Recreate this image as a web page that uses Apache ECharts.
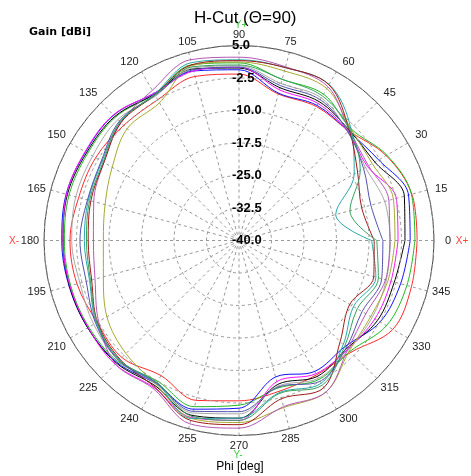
<!DOCTYPE html>
<html><head><meta charset="utf-8">
<script src="https://cdn.jsdelivr.net/npm/echarts@6/dist/echarts.min.js"></script>
<style>html,body{margin:0;padding:0;background:#fff}#c{width:471px;height:476px}</style>
</head><body><div id="c"></div>
<script>
// Phi angles (deg)
const angles = [0,15,30,45,60,75,90,105,120,135,150,165,180,195,210,225,240,255,270,285,300,315,330,345];
// Radial axis (gain, dBi)
const gainMin = -40, gainMax = 5, gainStep = 7.5;
// Angle axis tick step; the gain scale is drawn along Phi = 90
const phiStep = 15, phiTop = 90;

// Gain traces (dBi) at each angle above
const sRed     = [1.1,1.3,-0.8,-4.2,-4.3,-5.0,-1.6,-0.8,-2.5,-2.4,-1.8,-1.7,-1.0,-1.3,-2.2,-1.8,-4.0,-1.8,-3.0,-4.0,-4.2,-3.5,1.0,1.2];
const sGreen   = [0.6,1.2,-0.6,-3.5,-1.0,-1.5,1.0,2.0,-1.0,0.3,0.3,0.6,0.3,0.2,0.0,-0.5,-2.5,-0.3,-2.0,-4.8,-3.0,-3.8,-0.7,0.1];
const sBlue    = [-0.5,0.5,-2.8,-4.3,-4.0,-4.8,-0.6,0.5,-0.8,0.9,0.9,1.3,0.9,0.6,0.3,-0.2,-1.8,0.3,-1.3,-7.4,-5.1,-5.4,-2.4,-1.4];
const sBlack   = [-1.7,-0.5,-3.8,-4.0,-3.0,-3.5,-0.2,1.0,-1.0,0.5,0.6,1.0,0.6,0.5,0.3,0.0,-1.3,1.8,1.0,-5.6,-3.8,-4.8,-3.1,-2.9];
const sMagenta = [-3.3,-2.4,-5.8,-4.5,-3.5,-4.0,0.0,0.5,-0.8,1.0,1.0,1.2,0.6,0.4,0.2,0.4,-0.8,2.3,1.5,-6.3,-4.5,-4.5,-3.8,-3.7];
const sGray    = [-5.0,-5.2,-6.3,-4.5,-2.0,-2.5,0.3,1.2,-1.5,-0.5,-1.0,-1.0,-1.4,-2.0,-1.3,-0.8,-1.8,1.2,0.0,-5.2,-3.3,-4.3,-4.5,-4.8];
const sOlive   = [-4.0,-3.1,-4.5,-3.5,0.5,0.5,1.2,1.8,-3.3,-3.5,-6.2,-8.0,-8.7,-7.6,-4.8,-3.1,-1.7,2.5,2.0,-0.1,0.3,-4.0,-4.9,-4.4];
const sPurple  = [-5.2,-4.2,-5.5,-4.0,1.0,1.5,2.3,3.2,0.0,-1.5,-4.0,-5.3,-6.4,-5.6,-2.6,0.3,-0.5,3.8,3.3,-0.3,0.3,-4.5,-6.2,-5.0];
const sTeal    = [-9.4,-16.9,-9.3,-3.5,1.6,1.3,1.7,2.5,-1.0,-1.3,-3.5,-4.0,-4.3,-4.3,-2.0,-1.0,-2.0,2.5,1.0,-3.7,-2.0,-6.0,-9.5,-7.3];
const sMaroon  = [-8.8,-10.7,-8.4,-4.0,1.5,1.3,1.5,2.0,-1.2,-1.5,-4.0,-4.6,-5.2,-4.8,-2.3,-1.2,-1.0,3.0,2.5,-2.2,-0.8,-7.0,-10.5,-7.8];
const sSlate   = [-6.8,-8.5,-6.8,-4.5,-2.5,-3.0,0.0,0.8,-1.3,-1.0,-3.3,-3.8,-3.3,-3.5,-1.8,-0.8,-2.0,0.8,-0.5,-5.0,-2.5,-5.0,-7.2,-5.9];
const sSea     = [-8.2,-13.5,-7.7,-3.8,-1.5,-1.5,0.5,1.5,-1.2,-1.2,-3.8,-4.3,-4.8,-4.5,-2.2,-1.0,-2.2,2.0,1.5,-3.5,-1.5,-5.5,-8.5,-6.7];

const traces = [
  {name:'red', data:sRed, color:'#ff2a2a'},
  {name:'green', data:sGreen, color:'#22b822'},
  {name:'blue', data:sBlue, color:'#1010ff'},
  {name:'black', data:sBlack, color:'#000000'},
  {name:'magenta', data:sMagenta, color:'#ff10ff'},
  {name:'gray', data:sGray, color:'#a8a8a8'},
  {name:'olive', data:sOlive, color:'#a8a830'},
  {name:'purple', data:sPurple, color:'#b458b4'},
  {name:'teal', data:sTeal, color:'#28a8a8'},
  {name:'maroon', data:sMaroon, color:'#a01818'},
  {name:'slate', data:sSlate, color:'#5050b0'},
  {name:'sea', data:sSea, color:'#38a060'}
];

// angle axis runs from phiTop to phiTop+360 so the gain scale sits at the top; wrap angles into that range
const wrap = a => (a < phiTop ? a + 360 : a);
function closed(vals){
  const d = vals.map((v,i)=>[v, wrap(angles[i])]);
  d.push([vals[0], wrap(angles[0])]);
  return d;
}

const chart = echarts.init(document.getElementById('c'), null, {renderer:'canvas'});
const txt = (t, x, y, style) => ({type:'text', x, y, style:Object.assign({text:t, fill:'#000', fontFamily:'Liberation Sans, Arial, sans-serif', fontSize:11, align:'center', verticalAlign:'middle'}, style)});

chart.setOption({
  animation:false,
  backgroundColor:'#fff',
  title:{text:'H-Cut (\u0398=90)', left:189, top:5, textStyle:{fontSize:17, fontWeight:'normal', color:'#000', fontFamily:'Liberation Sans, Arial, sans-serif'}},
  polar:{center:[239,240.5], radius:195},
  angleAxis:{
    type:'value', min:phiTop, max:phiTop+360, interval:phiStep, startAngle:90, clockwise:false,
    axisLine:{show:true, lineStyle:{color:'#444', width:1}},
    axisTick:{show:false},
    axisLabel:{show:true, margin:4, color:'#222', fontSize:11, fontFamily:'Liberation Sans, Arial, sans-serif',
      formatter:v=>'{a|' + (v % 360) + '}',
      rich:{a:{width:20, height:13, align:'center', verticalAlign:'middle', color:'#222', fontSize:11, fontFamily:'Liberation Sans, Arial, sans-serif'}}},
    splitLine:{show:true, lineStyle:{color:'#999', type:[3,3], width:1}}
  },
  radiusAxis:{
    type:'value', min:gainMin, max:gainMax, interval:gainStep,
    axisLine:{show:false}, axisTick:{show:false},
    axisLabel:{show:true, margin:7, align:'left', verticalAlign:'middle', color:'#000', fontWeight:'bold', fontSize:13, fontFamily:'Liberation Sans, Arial, sans-serif', formatter:v=>v.toFixed(1)},
    splitLine:{show:true, lineStyle:{color:'#999', type:[3,3], width:1}},
    z:10
  },
  series: traces.map(t=>({
    type:'line', coordinateSystem:'polar', name:t.name, data:closed(t.data),
    showSymbol:false, smooth:0.35, lineStyle:{color:t.color, width:1}, itemStyle:{color:t.color}
  })),
  graphic:[
    txt('Gain [dBi]', 29, 32, {align:'left', fontWeight:'bold', fontFamily:'DejaVu Sans, sans-serif', fontSize:11}),
    txt('Phi [deg]', 240, 467, {fontSize:12}),
    txt('Y+', 241, 25, {fill:'#44cc44', fontSize:10}),
    txt('Y-', 238, 455, {fill:'#44cc44', fontSize:10}),
    txt('X+', 462, 241, {fill:'#ff4040', fontSize:10}),
    txt('X-', 14, 241, {fill:'#ff4040', fontSize:10})
  ]
});
</script></body></html>
